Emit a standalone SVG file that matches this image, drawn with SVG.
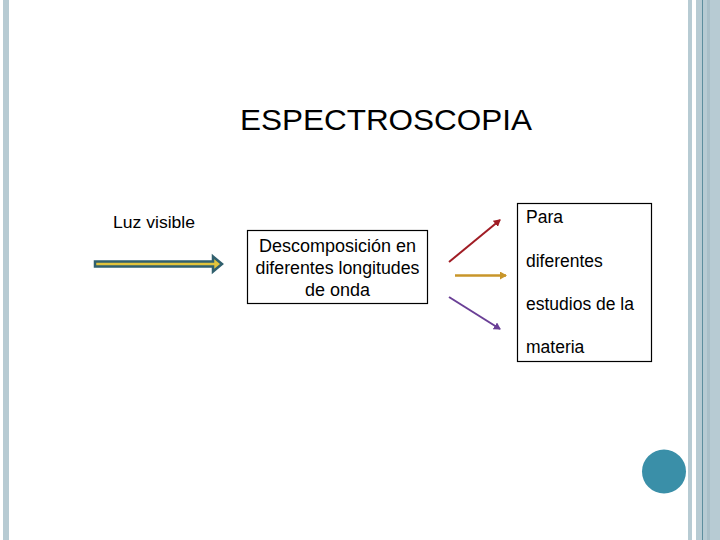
<svg xmlns="http://www.w3.org/2000/svg" width="720" height="540" viewBox="0 0 720 540">
<defs>
<style>
.t{font-family:"Liberation Sans",Arial,sans-serif;fill:#000;}
.box{fill:#fff;stroke:#000;stroke-width:1.2;}
.deco{fill:#b7cbd3;}
</style>
<marker id="mr" markerWidth="8" markerHeight="8" refX="6" refY="4" orient="auto" markerUnits="userSpaceOnUse"><path d="M0,0 L7,4 L0,8 z" fill="#a01c24"/></marker>
<marker id="mg" markerWidth="8" markerHeight="8" refX="6" refY="4" orient="auto" markerUnits="userSpaceOnUse"><path d="M0,0 L7,4 L0,8 z" fill="#c8962a"/></marker>
<marker id="mp" markerWidth="8" markerHeight="8" refX="6" refY="4" orient="auto" markerUnits="userSpaceOnUse"><path d="M0,0 L7,4 L0,8 z" fill="#6a3f96"/></marker>
</defs>
<rect x="0" y="0" width="720" height="540" fill="#fff"/>
<g id="decoration">
<rect class="deco" x="3" y="0" width="6" height="540"/>
<rect class="deco" x="688" y="0" width="4" height="540"/>
<rect class="deco" x="696" y="0" width="24" height="540"/>
<rect x="707" y="0" width="3" height="540" fill="#a9bfc8"/>
<rect x="702" y="0" width="1" height="540" fill="#5d8e9e"/>
<circle cx="664" cy="471.5" r="22" fill="#3a8fa8"/>
</g>
<g id="title"><text class="t" x="240" y="130" font-size="30" textLength="292" lengthAdjust="spacingAndGlyphs">ESPECTROSCOPIA</text></g>
<g id="luz"><text class="t" x="113" y="228" font-size="17" textLength="82" lengthAdjust="spacingAndGlyphs">Luz visible</text></g>
<g id="descomposicion">
<rect class="box" x="247.5" y="230.5" width="180" height="73"/>
<text class="t" x="337.5" y="252" font-size="17.5" text-anchor="middle" textLength="157" lengthAdjust="spacingAndGlyphs">Descomposición en</text>
<text class="t" x="337.5" y="274" font-size="17.5" text-anchor="middle" textLength="164" lengthAdjust="spacingAndGlyphs">diferentes longitudes</text>
<text class="t" x="337.5" y="296" font-size="17.5" text-anchor="middle" textLength="65" lengthAdjust="spacingAndGlyphs">de onda</text>
</g>
<g id="para">
<rect class="box" x="517.5" y="203.5" width="134" height="158"/>
<text class="t" x="526" y="223" font-size="17.5">Para</text>
<text class="t" x="526" y="267" font-size="17.5">diferentes</text>
<text class="t" x="526" y="310" font-size="17.5" textLength="108" lengthAdjust="spacingAndGlyphs">estudios de la</text>
<text class="t" x="526" y="353" font-size="17.5">materia</text>
</g>
<g id="connectors">
<path d="M95,261.5 L213,261.5 L213,256.5 L222,264 L213,271.5 L213,266.5 L95,266.5 Z" fill="#e2c43c" stroke="#31606e" stroke-width="2.5" stroke-linejoin="miter"/>
<line x1="449" y1="262" x2="500" y2="220" stroke="#a01c24" stroke-width="2" marker-end="url(#mr)"/>
<line x1="455" y1="275.5" x2="506" y2="275.5" stroke="#c8962a" stroke-width="2.5" marker-end="url(#mg)"/>
<line x1="449" y1="297" x2="500" y2="329" stroke="#6a3f96" stroke-width="2" marker-end="url(#mp)"/>
</g>
</svg>
